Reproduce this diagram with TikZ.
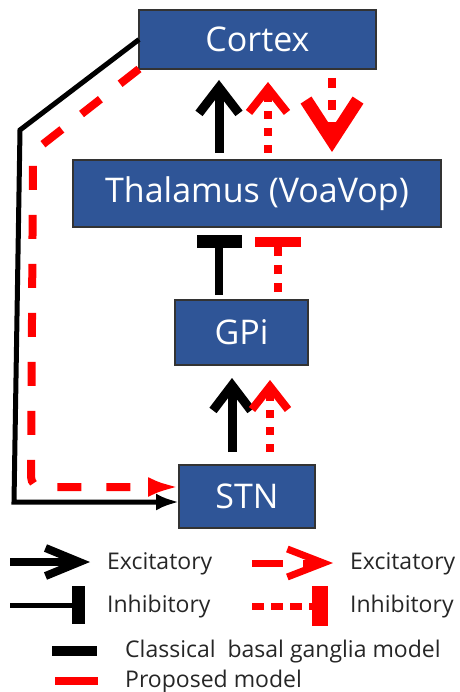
\documentclass[tikz,border=0pt]{standalone}
\usepackage{fontspec}
\setmainfont{Open Sans}
\usetikzlibrary{arrows.meta}
\definecolor{boxblue}{HTML}{2F5597}
\definecolor{rd}{HTML}{FF0000}
\begin{document}
\begin{tikzpicture}[x=1pt,y=-1pt,
  box/.style={draw=black!80, line width=1.5pt, fill=boxblue, text=white,
    font=\fontsize{34}{40}\selectfont, inner sep=0pt, outer sep=0pt},
  blk/.style={draw=black, line width=9pt},
  rdot/.style={draw=rd, line width=8pt},
  lt/.style={font=\fontsize{23}{27}\selectfont, text=black!85, inner sep=0pt, anchor=base west}
]
\useasboundingbox (0,0) rectangle (459,692);

% boxes
\node[box, minimum width=237pt, minimum height=59pt] (cortex) at (257.5,39.5) {Cortex};
\node[box, minimum width=368pt, minimum height=67pt] (thal) at (257,193.5) {Thalamus (VoaVop)};
\node[box, minimum width=133pt, minimum height=65pt] (gpi) at (241.5,332.5) {GPi};
\node[box, minimum width=136pt, minimum height=63pt] (stn) at (247,496.5) {STN};

% Thalamus <-> Cortex
\coordinate (a1) at ([xshift=-38pt]thal.north);
\coordinate (a2) at ([xshift=11pt]thal.north);
\coordinate (a3) at ([xshift=75pt]thal.north);
\draw[blk, shorten <=7pt, shorten >=11pt, -{Straight Barb[length=26pt,width=40pt]}]
  (a1) -- (a1 |- cortex.south);
\draw[rdot, dash pattern=on 8pt off 9pt, shorten <=7pt, shorten >=13pt,
  -{Straight Barb[length=24pt,width=38pt]}]
  (a2) -- (a2 |- cortex.south);
\draw[rdot, dash pattern=on 10pt off 12pt, shorten <=9pt, shorten >=8pt,
  -{Straight Barb[length=40pt,width=52pt,line width=13pt]}]
  (a3 |- cortex.south) -- (a3);

% GPi -| Thalamus
\coordinate (g1) at ([xshift=-22.5pt]gpi.north);
\coordinate (g2) at ([xshift=36pt]gpi.north);
\draw[blk, line width=8pt, shorten <=5pt, shorten >=8pt, -{Rectangle[length=13pt,width=45pt]}]
  (g1) -- (g1 |- thal.south);
\draw[rdot, dash pattern=on 9pt off 9pt, shorten <=8pt, shorten >=10pt,
  -{Rectangle[length=10pt,width=46pt]}]
  (g2) -- (g2 |- thal.south);

% STN -> GPi
\coordinate (s1) at ([xshift=-15pt]stn.north);
\coordinate (s2) at ([xshift=23pt]stn.north);
\draw[blk, shorten <=13pt, shorten >=13pt, -{Straight Barb[length=25pt,width=38pt]}]
  (s1) -- (s1 |- gpi.south);
\draw[rdot, dash pattern=on 8pt off 9pt, shorten <=13pt, shorten >=15pt,
  -{Straight Barb[length=23pt,width=36pt]}]
  (s2) -- (s2 |- gpi.south);

% Cortex -> STN (left)
\coordinate (b1) at (20,130);
\coordinate (b2) at (14,502);
\draw[black, line width=5pt, line join=miter, -{Latex[length=23pt,width=17pt]}]
  (cortex.west) -- (b1) -- (b2) -- (b2 -| stn.west);
\coordinate (c1) at (33,152);
\coordinate (c2) at (31,487);
\draw[rd, line width=8pt, dash pattern=on 24pt off 25pt, rounded corners=10pt,
  -{Latex[length=31pt,width=20pt]}]
  (cortex.south west) -- (c1) -- (c2) -- (c2 -| stn.west);

% legend
\draw[black, line width=8pt, -{Straight Barb[length=34pt,width=28pt]}] (10,562) -- (90,562);
\node[lt] (l1) at (107,569) {Excitatory};
\draw[rd, line width=7pt, dash pattern=on 31pt off 20pt, -{Straight Barb[length=36pt,width=28pt]}] (252,563) -- (333,563);
\node[lt] (l2) at (350,569) {Excitatory};
\draw[black, line width=5pt, -{Rectangle[length=13pt,width=38pt]}] (10,605) -- (85,605);
\node[lt] (l3) at (107,612) {Inhibitory};
\draw[rd, line width=7pt, dash pattern=on 12pt off 7pt, -{Rectangle[length=16pt,width=40pt]}] (252,606) -- (328,606);
\node[lt] (l4) at (350,612) {Inhibitory};
\fill[black] (52,646) rectangle (97,656);
\node[lt] (l5) at (125,657) {Classical\ \ basal ganglia model};
\fill[rd] (55,677) rectangle (98,685);
\node[lt] (l6) at (125,687) {Proposed model};
\end{tikzpicture}
\end{document}
